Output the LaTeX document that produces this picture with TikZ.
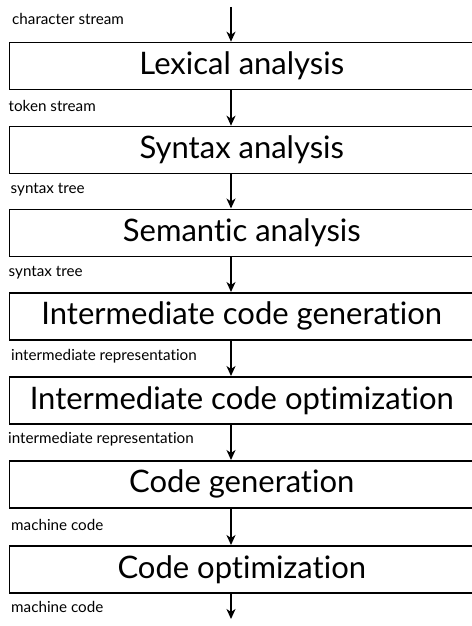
\documentclass[tikz,border=0pt]{standalone}
\usepackage{fontspec}
\setmainfont[Ligatures={NoCommon,NoRare}]{Lato}
\usetikzlibrary{arrows.meta}
\begin{document}
\begin{tikzpicture}[x=1pt,y=-1pt,
  stage/.style={draw=black,line width=1.6pt,anchor=north west,minimum width=465pt,minimum height=47pt,inner sep=0pt,font=\fontsize{31}{33}\selectfont},
  lbl/.style={anchor=west,inner sep=0pt,font=\fontsize{15.2}{17}\selectfont},
  arr/.style={line width=1.6pt,-{Stealth[length=10pt,width=9pt,inset=3pt]}}]
\useasboundingbox (0,0) rectangle (471,626);
\coordinate (ax) at (231,0);
\coordinate (top) at (231,7);
\coordinate (bot) at (231,619);
\node[stage] (b1) at (8.5,41.7) {Lexical analysis};
\node[stage] (b2) at (8.5,125.7) {Syntax analysis};
\node[stage] (b3) at (8.5,208.5) {Semantic analysis};
\node[stage] (b4) at (8.5,292) {Intermediate code generation};
\node[stage] (b5) at (8.5,376) {Intermediate code optimization};
\node[stage] (b6) at (8.5,460) {Code generation};
\node[stage] (b7) at (8.5,545) {Code optimization};
\draw[arr] (top) -- (b1.north -| ax);
\draw[arr] (b1.south -| ax) -- (b2.north -| ax);
\draw[arr] (b2.south -| ax) -- (b3.north -| ax);
\draw[arr] (b3.south -| ax) -- (b4.north -| ax);
\draw[arr] (b4.south -| ax) -- (b5.north -| ax);
\draw[arr] (b5.south -| ax) -- (b6.north -| ax);
\draw[arr] (b6.south -| ax) -- (b7.north -| ax);
\draw[arr] (b7.south -| ax) -- (bot);
\node[lbl] (l0) at (12,19) {character stream};
\node[lbl] (l1) at (8.5,106) {token stream};
\node[lbl] (l2) at (10.5,189.5) {syntax tree};
\node[lbl] (l3) at (8.5,272.5) {syntax tree};
\node[lbl] (l4) at (11,356) {intermediate representation};
\node[lbl] (l5) at (8,439.5) {intermediate representation};
\node[lbl] (l6) at (11,524.5) {machine code};
\node[lbl] (l7) at (11,607) {machine code};
\end{tikzpicture}
\end{document}
